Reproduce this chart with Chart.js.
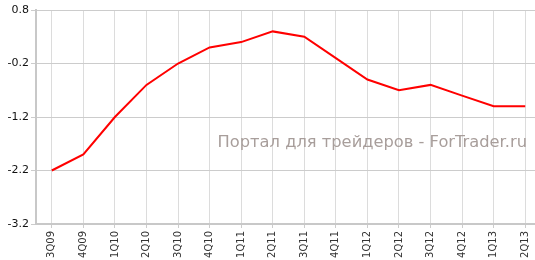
<!DOCTYPE html>
<html>
<head>
<meta charset="utf-8">
<script src="https://cdn.jsdelivr.net/npm/chart.js@4"></script>
<style>
  html, body { margin: 0; padding: 0; background: #fff; overflow: hidden; }
  #wrap { width: 541px; height: 260px; }
</style>
</head>
<body>
<div id="wrap"><canvas id="graph"></canvas></div>
<script>
var quarters = ['3Q09','4Q09','1Q10','2Q10','3Q10','4Q10','1Q11','2Q11','3Q11','4Q11','1Q12','2Q12','3Q12','4Q12','1Q13','2Q13'];
var values = [-2.2, -1.9, -1.2, -0.6, -0.2, 0.1, 0.2, 0.4, 0.3, -0.1, -0.5, -0.7, -0.6, -0.8, -1.0, -1.0];
var yTicks = [0.8, -0.2, -1.2, -2.2, -3.2];
var watermark = 'Портал для трейдеров - ForTrader.ru';

// надпись поверх сетки
var watermarkPlugin = {
    id: 'watermark',
    beforeDatasetsDraw: function(chart) {
        var c = chart.ctx;
        c.save();
        c.font = '16.3px "DejaVu Sans"';
        c.fillStyle = '#a89e9b';
        c.textAlign = 'right';
        c.textBaseline = 'alphabetic';
        c.fillText(watermark, 527, 147);
        c.restore();
    }
};

var ctx = document.getElementById('graph');
var chart = new Chart(ctx, {
    type: 'line',
    data: {
        labels: quarters,
        datasets: [{
            data: values,
            borderColor: '#ff0000',
            borderWidth: 2,
            pointRadius: 0,
            tension: 0,
            fill: false
        }]
    },
    options: {
        responsive: true,
        maintainAspectRatio: false,
        animation: false,
        plugins: {
            legend: { display: false },
            tooltip: { enabled: false }
        },
        layout: {
            padding: { left: 0, right: 0, top: 10, bottom: 0 }
        },
        scales: {
            x: {
                offset: true,
                grid: {
                    offset: false,
                    color: '#dcdcdc',
                    lineWidth: 1,
                    tickLength: 4,
                    tickColor: '#cccccc'
                },
                border: { color: '#c8c8c8', width: 2 },
                ticks: {
                    autoSkip: false,
                    minRotation: 90,
                    maxRotation: 90,
                    padding: 3,
                    color: '#333',
                    font: { family: 'Verdana, "DejaVu Sans"', size: 10 }
                },
                afterFit: function(scale) { scale.height = 36; }
            },
            y: {
                min: -3.2,
                max: 0.8,
                afterBuildTicks: function(scale) {
                    scale.ticks = yTicks.map(function(v) { return { value: v }; });
                },
                grid: {
                    color: '#cccccc',
                    lineWidth: 1,
                    tickLength: 5,
                    tickColor: '#cccccc'
                },
                border: { color: '#c8c8c8', width: 2 },
                ticks: {
                    padding: 2,
                    color: '#111',
                    font: { family: 'Verdana, "DejaVu Sans"', size: 11 },
                    callback: function(v) { return v.toFixed(1); }
                },
                afterFit: function(scale) { scale.width = 36; }
            }
        }
    },
    plugins: [watermarkPlugin]
});
</script>
</body>
</html>
